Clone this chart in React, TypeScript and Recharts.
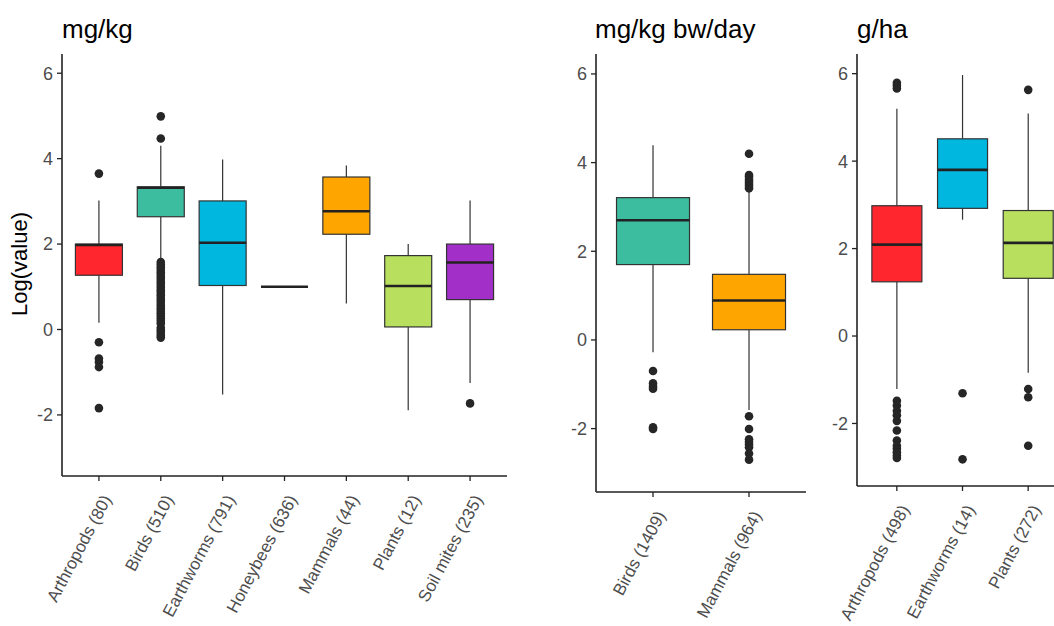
import React from 'react';
import { ComposedChart, Bar, XAxis, YAxis } from 'recharts';

const FONT = '"Liberation Sans", Arial, Helvetica, sans-serif';

// ---- Panel 1: mg/kg ----
const mgkgCategories = ['Arthropods (80)', 'Birds (510)', 'Earthworms (791)', 'Honeybees (636)', 'Mammals (44)', 'Plants (12)', 'Soil mites (235)'];
const mgkgWhiskerLow = [0.16, 1.62, -1.52, 1.0, 0.61, -1.89, -1.25];
const mgkgQ1 = [1.27, 2.64, 1.03, 1.0, 2.23, 0.06, 0.70];
const mgkgMedian = [1.98, 3.32, 2.03, 1.0, 2.77, 1.02, 1.57];
const mgkgQ3 = [2.0, 3.34, 3.01, 1.0, 3.57, 1.73, 2.0];
const mgkgWhiskerHigh = [3.02, 4.30, 3.98, 1.0, 3.84, 2.0, 3.02];
const mgkgOutliers = [
  [3.65, -0.30, -0.68, -0.76, -0.88, -1.84],
  [4.99, 4.47, 1.58, 1.52, 1.46, 1.40, 1.34, 1.28, 1.22, 1.16, 1.10, 1.04, 0.98, 0.92, 0.86, 0.80, 0.74, 0.68, 0.62, 0.56, 0.50, 0.44, 0.38, 0.32, 0.26, 0.20, 0.14, 0.04, -0.02, -0.08, -0.14, -0.19],
  [],
  [],
  [],
  [],
  [-1.73],
];
const mgkgColors = ['#FF262E', '#3DBDA0', '#00B7E0', '#FFA500', '#B8E05E', '#A22FC8'];
const mgkgColorIdx = [0, 1, 2, 2, 3, 4, 5];

// ---- Panel 2: mg/kg bw/day ----
const bwCategories = ['Birds (1409)', 'Mammals (964)'];
const bwWhiskerLow = [-0.28, -1.58];
const bwQ1 = [1.70, 0.23];
const bwMedian = [2.70, 0.89];
const bwQ3 = [3.21, 1.48];
const bwWhiskerHigh = [4.39, 3.39];
const bwOutliers = [
  [-0.70, -0.98, -1.05, -1.10, -1.97, -2.01],
  [4.20, 3.72, 3.68, 3.62, 3.57, 3.52, 3.47, 3.42, -1.72, -2.01, -2.24, -2.30, -2.36, -2.42, -2.56, -2.70],
];
const bwColors = ['#3DBDA0', '#FFA500'];

// ---- Panel 3: g/ha ----
const ghaCategories = ['Arthropods (498)', 'Earthworms (14)', 'Plants (272)'];
const ghaWhiskerLow = [-1.21, 2.66, -0.84];
const ghaQ1 = [1.24, 2.92, 1.32];
const ghaMedian = [2.09, 3.80, 2.13];
const ghaQ3 = [2.98, 4.51, 2.87];
const ghaWhiskerHigh = [5.20, 5.97, 5.09];
const ghaOutliers = [
  [5.79, 5.73, 5.66, -1.48, -1.59, -1.71, -1.81, -1.94, -2.16, -2.39, -2.51, -2.58, -2.66, -2.73, -2.79],
  [-1.31, -2.82],
  [5.63, -1.21, -1.40, -2.51],
];
const ghaColors = ['#FF262E', '#00B7E0', '#B8E05E'];

const yDomain: [number, number] = [-3.43, 6.45];
const yTicks = [-2, 0, 2, 4, 6];

type Row = {
  name: string; lo: number; hi: number; wl: number; q1: number; med: number; q3: number; wh: number; out: number[]; color: string;
};

function buildRows(cats: string[], wl: number[], q1: number[], med: number[], q3: number[], wh: number[], out: number[][], colors: string[]): Row[] {
  return cats.map((name, i) => {
    const all = [wl[i], wh[i], q1[i], q3[i], ...out[i]];
    return {
      name,
      lo: Math.min(...all),
      hi: Math.max(...all),
      wl: wl[i], q1: q1[i], med: med[i], q3: q3[i], wh: wh[i],
      out: out[i],
      color: colors[i],
    };
  });
}

const mgkgRows = buildRows(mgkgCategories, mgkgWhiskerLow, mgkgQ1, mgkgMedian, mgkgQ3, mgkgWhiskerHigh, mgkgOutliers, mgkgColorIdx.map((k) => mgkgColors[k]));
const bwRows = buildRows(bwCategories, bwWhiskerLow, bwQ1, bwMedian, bwQ3, bwWhiskerHigh, bwOutliers, bwColors);
const ghaRows = buildRows(ghaCategories, ghaWhiskerLow, ghaQ1, ghaMedian, ghaQ3, ghaWhiskerHigh, ghaOutliers, ghaColors);

const BoxShape = (props: any) => {
  const { x, y, width, height, payload } = props;
  if (!payload) return null;
  const top = Math.min(y, y + height);
  const bottom = Math.max(y, y + height);
  const span = payload.hi - payload.lo;
  const py = (v: number) => (span > 0 ? top + ((payload.hi - v) / span) * (bottom - top) : top);
  const cx = x + width / 2;
  const yq3 = py(payload.q3);
  const yq1 = py(payload.q1);
  return (
    <g>
      <line x1={cx} x2={cx} y1={py(payload.wh)} y2={yq3} stroke="#333" strokeWidth={1.2} />
      <line x1={cx} x2={cx} y1={yq1} y2={py(payload.wl)} stroke="#333" strokeWidth={1.2} />
      <rect x={x} y={yq3} width={width} height={Math.max(0, yq1 - yq3)} fill={payload.color} stroke="#333" strokeWidth={1.2} />
      <line x1={x} x2={x + width} y1={py(payload.med)} y2={py(payload.med)} stroke="#222" strokeWidth={2.6} />
      {payload.out.map((v: number, j: number) => (
        <circle key={j} cx={cx} cy={py(v)} r={4.3} fill="#262626" />
      ))}
    </g>
  );
};

const XTick = (props: any) => {
  const { x, y, payload } = props;
  const ax = x + 13;
  const ay = y + 16;
  return (
    <text x={ax} y={ay} transform={`rotate(-62 ${ax} ${ay})`} textAnchor="end" fontSize={17} fill="#4D4D4D" fontFamily={FONT}>
      {payload.value}
    </text>
  );
};

type PanelProps = { rows: Row[]; left: number; width: number; bottomMargin: number; padding: number };

const Panel = ({ rows, left, width, bottomMargin, padding }: PanelProps) => (
  <div style={{ position: 'absolute', left, top: 0 }}>
    <ComposedChart
      width={width}
      height={626}
      data={rows}
      margin={{ top: 54, right: 10, left: 12, bottom: bottomMargin }}
      barCategoryGap="12%"
    >
      <XAxis
        dataKey="name"
        type="category"
        interval={0}
        padding={{ left: padding, right: padding }}
        height={130}
        tick={<XTick />}
        tickSize={5}
        tickMargin={2}
        axisLine={{ stroke: '#222', strokeWidth: 1.6 }}
        tickLine={{ stroke: '#222', strokeWidth: 1.3 }}
      />
      <YAxis
        type="number"
        domain={yDomain}
        ticks={yTicks}
        allowDataOverflow
        width={50}
        tickSize={5}
        tickMargin={4}
        axisLine={{ stroke: '#222', strokeWidth: 1.6 }}
        tickLine={{ stroke: '#222', strokeWidth: 1.3 }}
        tick={{ fill: '#4D4D4D', fontSize: 18, fontFamily: FONT }}
      />
      <Bar dataKey={(d: Row) => [d.lo, d.hi]} shape={BoxShape} isAnimationActive={false} />
    </ComposedChart>
  </div>
);

export default function App() {
  return (
    <div style={{ position: 'absolute', left: 0, top: 0, width: 1054, height: 626, overflow: 'hidden', background: '#fff' }}>
      <Panel rows={mgkgRows} left={0} width={517} bottomMargin={20} padding={6} />
      <Panel rows={bwRows} left={534} width={282} bottomMargin={4} padding={9} />
      <Panel rows={ghaRows} left={795} width={283} bottomMargin={10} padding={7} />
      <svg width={1054} height={626} style={{ position: 'absolute', left: 0, top: 0, pointerEvents: 'none' }}>
        <text x={62} y={38} fontSize={26} fontFamily={FONT} fill="#000">mg/kg</text>
        <text x={595} y={38} fontSize={26} fontFamily={FONT} fill="#000">mg/kg bw/day</text>
        <text x={857} y={38} fontSize={26} fontFamily={FONT} fill="#000">g/ha</text>
        <text transform="translate(27,264) rotate(-90)" textAnchor="middle" fontSize={22} fontFamily={FONT} fill="#000">Log(value)</text>
      </svg>
    </div>
  );
}
